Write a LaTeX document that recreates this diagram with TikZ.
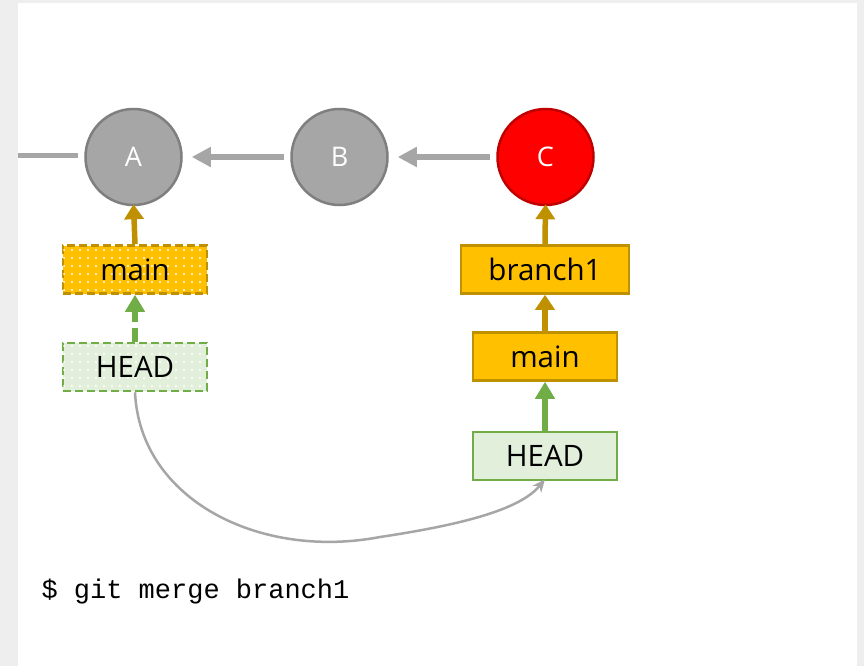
\documentclass[tikz,border=0pt]{standalone}
\usepackage{fontspec}
\setmainfont{Open Sans}
\setmonofont{Liberation Mono}
\usetikzlibrary{arrows.meta,patterns.meta}
\definecolor{bgray}{HTML}{EEEEEE}
\definecolor{cgray}{HTML}{A6A6A6}
\definecolor{cgrayb}{HTML}{7F7F7F}
\definecolor{cred}{HTML}{FF0000}
\definecolor{credb}{HTML}{C00000}
\definecolor{gold}{HTML}{FFC000}
\definecolor{goldb}{HTML}{BF9000}
\definecolor{lgreen}{HTML}{E2EFDA}
\definecolor{dgreen}{HTML}{70AD47}
\definecolor{lnk}{HTML}{A6A6A6}
\tikzset{
  commit/.style={circle, minimum size=96pt, inner sep=0pt, line width=2.5pt, draw=cgrayb, fill=cgray, text=white, font=\fontsize{27}{30}\selectfont},
  branchbox/.style={rectangle, minimum height=48pt, inner sep=0pt, line width=2.5pt, draw=goldb, fill=gold, font=\fontsize{29.5}{31}\selectfont},
  headbox/.style={rectangle, minimum height=48pt, minimum width=144pt, inner sep=0pt, line width=2.5pt, draw=dgreen, fill=lgreen, font=\fontsize{29.5}{31}\selectfont},
  lbl/.style={font=\fontsize{29.5}{31}\selectfont},
  parent/.style={line width=6pt, draw=lnk, -{Triangle[length=19pt,width=19pt]}},
  goldarrow/.style={line width=5.5pt, draw=goldb, -{Triangle[length=15pt,width=19pt]}},
  greenarrow/.style={line width=5.5pt, draw=dgreen, -{Triangle[length=17pt,width=19pt]}},
  moveline/.style={line width=2.5pt, draw=lnk, -{Stealth[length=13pt,width=11pt]}},
  olddash/.style={dash pattern=on 8pt off 4pt},
}
\begin{document}
\begin{tikzpicture}[x=1pt,y=-1pt]
\fill[bgray] (0,0) rectangle (864,666);
\fill[white] (18,3) rectangle (857,666);
\useasboundingbox (0,0) rectangle (864,666);

\node[commit] (A) at (133.5,157) {A};
\node[commit] (B) at (339.5,157) {B};
\node[commit, fill=cred, draw=credb] (C) at (545.5,157) {C};

\coordinate (stub) at (18,155);
\draw[line width=5pt, draw=lnk] (stub) -- (stub -| {78,0});
\draw[parent] ([xshift=-6pt]B.west) -- ([xshift=9pt]A.east);
\draw[parent] ([xshift=-6pt]C.west) -- ([xshift=9pt]B.east);

% left (old) refs
\node[branchbox, minimum width=144pt, olddash] (mainold) at (135,269.5) {};
\fill[pattern={Dots[distance=8pt,radius=1.2pt]}, pattern color=white] ([shift={(1.5pt,1.5pt)}]mainold.north west) rectangle ([shift={(-1.5pt,-1.5pt)}]mainold.south east);
\node[lbl] (mainoldt) at (mainold) {main};
\node[headbox, olddash] (headold) at (135,367) {};
\fill[pattern={Dots[distance=8pt,radius=1.2pt]}, pattern color=white] ([shift={(1.5pt,1.5pt)}]headold.north west) rectangle ([shift={(-1.5pt,-1.5pt)}]headold.south east);
\node[lbl] (headoldt) at (headold) {HEAD};

\draw[goldarrow] (mainold.north) -- ([yshift=2pt]A.south);
\draw[greenarrow, dash pattern=on 14pt off 6pt] (headold.north) -- (mainold.south);

% right (new) refs
\node[branchbox, minimum width=168pt] (br1) at (545,269.5) {branch1};
\node[branchbox, minimum width=144pt] (mainnew) at (545,356.5) {main};
\node[headbox] (headnew) at (545,456) {HEAD};

\draw[goldarrow] (br1.north) -- ([yshift=2pt]C.south);
\draw[goldarrow] (mainnew.north) -- (br1.south);
\draw[greenarrow] (headnew.north) -- (mainnew.south);

\draw[moveline] (headold.south) .. controls (140,500) and (260,560) .. (380,537) .. controls (460,525) and (520,510) .. ([yshift=2pt]headnew.south);

\node[anchor=west, font=\ttfamily\fontsize{27}{30}\selectfont] (cmd) at (38,592) {\$ git merge branch1};
\end{tikzpicture}
\end{document}
